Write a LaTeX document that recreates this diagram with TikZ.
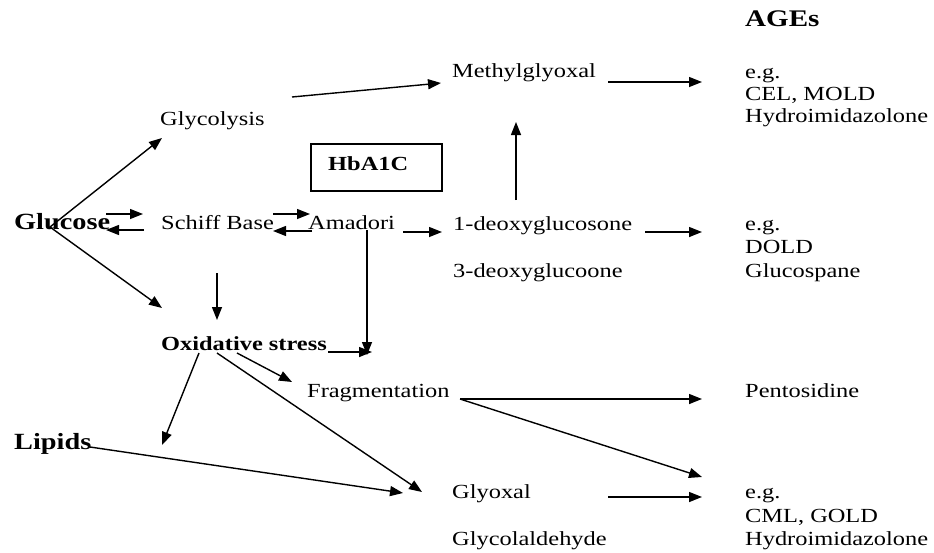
\documentclass[tikz,border=0pt]{standalone}
\usepackage{fontspec}
\setmainfont[FakeStretch=1.22]{Liberation Serif}
\usetikzlibrary{arrows.meta}
\begin{document}
\begin{tikzpicture}[x=1pt,y=-1pt,
  lbl/.style={anchor=base west,inner sep=0pt,font=\fontsize{20}{24}\selectfont},
  blbl/.style={anchor=base west,inner sep=0pt,font=\fontsize{20}{24}\selectfont\bfseries},
  big/.style={anchor=base west,inner sep=0pt,font=\fontsize{23.2}{28}\selectfont\bfseries},
  framebox/.style={draw,line width=2pt,minimum width=131pt,minimum height=47pt,inner sep=0pt},
  arr/.style={-{Triangle[length=13pt,width=10pt]},line width=1.4pt},
  ln/.style={line width=1.4pt}]
\useasboundingbox (0,0) rectangle (934,552);
% texts
\node[big,font=\fontsize{23.8}{28}\selectfont\bfseries] (ages) at (745,26) {AGEs};
\node[lbl] (methyl) at (452,77) {Methylglyoxal};
\node[lbl] (eg1) at (745,78) {e.g.};
\node[lbl] (cel) at (745,100) {CEL, MOLD};
\node[lbl] (hyd1) at (745,122) {Hydroimidazolone};
\node[lbl] (glyc) at (160,125) {Glycolysis};
\node[framebox] (hbbox) at (376.5,167.5) {};
\node[blbl] (hba) at (328,170) {HbA1C};
\node[big] (glucose) at (14,229) {Glucose};
\node[lbl] (schiff) at (161,229) {Schiff Base};
\node[lbl] (amadori) at (308,229) {Amadori};
\node[lbl] (deoxy1) at (453,230) {1-deoxyglucosone};
\node[lbl] (eg2) at (745,230) {e.g.};
\node[lbl] (dold) at (745,253) {DOLD};
\node[lbl] (deoxy3) at (453,277) {3-deoxyglucoone};
\node[lbl] (glucospane) at (745,277) {Glucospane};
\node[blbl] (ox) at (161,350) {Oxidative stress};
\node[lbl] (frag) at (307,397) {Fragmentation};
\node[lbl] (pento) at (745,397) {Pentosidine};
\node[big] (lipids) at (14,449) {Lipids};
\node[lbl] (glyoxal) at (452,498) {Glyoxal};
\node[lbl] (eg3) at (745,498) {e.g.};
\node[lbl] (cml) at (745,522) {CML, GOLD};
\node[lbl] (glycol) at (452,545) {Glycolaldehyde};
\node[lbl] (hyd2) at (745,545) {Hydroimidazolone};
% connector end points
\coordinate (gsrc) at (50,227);
\coordinate (glycT) at (162,138);
\coordinate (oxT1) at (162,308);
\coordinate (glyA) at (292,97);
\coordinate (mgT) at (441,83);
\coordinate (mgA) at (608,82);
\coordinate (age1T) at (702,82);
\coordinate (gs1A) at (106,214);
\coordinate (gs1T) at (143,214);
\coordinate (gs2A) at (144,230);
\coordinate (gs2T) at (106,230);
\coordinate (sa1A) at (273,214);
\coordinate (sa1T) at (310,214);
\coordinate (sa2A) at (312,231);
\coordinate (sa2T) at (273,231);
\coordinate (adA) at (403,232);
\coordinate (adT) at (442,232);
\coordinate (dupA) at (516,200);
\coordinate (dupT) at (516,122);
\coordinate (dgA) at (645,232);
\coordinate (dgT) at (702,232);
\coordinate (sdA) at (217,273);
\coordinate (sdT) at (217,320);
\coordinate (amA) at (367,230);
\coordinate (amT) at (367,355);
\coordinate (oxhA) at (328,352);
\coordinate (oxhT) at (372,352);
\coordinate (ofA) at (237,353);
\coordinate (ofT) at (292,382);
\coordinate (ogA) at (217,353);
\coordinate (ogT) at (422,492);
\coordinate (olA) at (199,353);
\coordinate (olT) at (162,445);
\coordinate (lgA) at (90,447);
\coordinate (lgT) at (403,493);
\coordinate (fA) at (460,399);
\coordinate (fpT) at (702,399);
\coordinate (fcT) at (702,477);
\coordinate (gxA) at (608,497);
\coordinate (gxT) at (702,497);
% connectors
\draw[arr] (gsrc) -- (glycT);
\draw[arr] (gsrc) -- (oxT1);
\draw[arr] (glyA) -- (mgT);
\draw[arr] (mgA) -- (age1T);
\draw[arr] (gs1A) -- (gs1T);
\draw[arr] (gs2A) -- (gs2T);
\draw[arr] (sa1A) -- (sa1T);
\draw[arr] (sa2A) -- (sa2T);
\draw[arr] (adA) -- (adT);
\draw[arr] (dupA) -- (dupT);
\draw[arr] (dgA) -- (dgT);
\draw[arr] (sdA) -- (sdT);
\draw[arr] (amA) -- (amT);
\draw[arr] (oxhA) -- (oxhT);
\draw[arr] (ofA) -- (ofT);
\draw[arr] (ogA) -- (ogT);
\draw[arr] (olA) -- (olT);
\draw[arr] (lgA) -- (lgT);
\draw[arr] (fA) -- (fpT);
\draw[arr] (fA) -- (fcT);
\draw[arr] (gxA) -- (gxT);
\end{tikzpicture}
\end{document}
